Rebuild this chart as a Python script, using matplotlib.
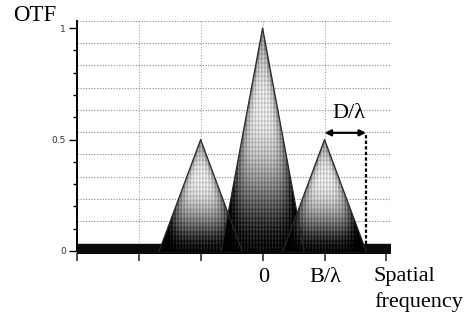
import numpy as np
import matplotlib
matplotlib.use('Agg')
import matplotlib.pyplot as plt
from matplotlib.patches import Polygon

# OTF of a two-aperture interferometer, x in units of B/lambda
peak_centers = [-1.0, 0.0, 1.0]
peak_heights = [0.5, 1.0, 0.5]
half_width = 0.67          # D/lambda
band_top = 0.033           # dark floor under the peaks
x_ticks = [-3, -2, -1, 0, 1, 2]
y_major = [0, 0.5, 1]
y_major_labels = ['0', '0.5', '1']

serif = 'Liberation Serif'
W, H = 477, 322

fig = plt.figure(figsize=(4.77, 3.22), dpi=100)
ax = fig.add_axes([0.161, 0.2137, 0.657, 0.722])
xlim = (-3.0, 2.06)
ylim = (-0.01, 1.033)

# dotted grid, offset the same way as in the original picture
for g in np.arange(band_top + 0.1, 1.04, 0.1):
    ax.axhline(g, color='#9a9a9a', lw=0.8, ls=(0, (1.2, 1.3)), zorder=0)
for g in [-2, -1, 0, 1, xlim[1]]:
    ax.axvline(g, color='#a8a8a8', lw=0.8, ls=(0, (1, 1.5)), zorder=0)

# dark floor band
ax.fill_between([xlim[0], xlim[1]], -0.01, band_top, color='#0a0a0a', zorder=2)

# peaks: gradient fill clipped to each triangle
for c, h in zip(peak_centers, peak_heights):
    w = half_width
    xs = np.linspace(c - w, c + w, 240)
    ys = np.linspace(0, h, 300)
    X, Y = np.meshgrid(xs, ys)
    t = Y / h
    s = np.abs(X - c) / np.maximum(w * (1 - t), 1e-6)
    val = 0.05 + 0.85 * np.sin(np.pi * t * 0.78) ** 1.3
    val -= 0.4 * np.clip(s, 0, 1) ** 4
    val += 0.12 * np.sin(2 * np.pi * X / 0.05) - 0.10 * (np.sin(2 * np.pi * Y / 0.02) > 0.5)
    val = np.clip(val, 0, 1)
    tri = Polygon([[c - w, 0], [c, h], [c + w, 0]], closed=True,
                  facecolor='none', edgecolor='none')
    ax.add_patch(tri)
    im = ax.imshow(val, cmap='gray', vmin=0, vmax=1, origin='lower',
                   extent=[c - w, c + w, 0, h], aspect='auto',
                   interpolation='bilinear', zorder=3)
    im.set_clip_path(tri)

for c, h in zip(peak_centers, peak_heights):
    ax.plot([c - half_width, c, c + half_width], [0, h, 0],
            color='#2a2a2a', lw=0.9, zorder=4)

ax.set_xlim(*xlim)
ax.set_ylim(*ylim)

# D/lambda arrow and dashed drop line
arrow_y = 0.53
ax.annotate('', xy=(1 + half_width, arrow_y), xytext=(1.0, arrow_y),
            arrowprops=dict(arrowstyle='<|-|>', color='black', lw=1.6,
                            mutation_scale=9, shrinkA=0, shrinkB=0), zorder=6)
ax.plot([1 + half_width, 1 + half_width], [band_top, arrow_y], color='black',
        lw=1.6, ls=(0, (1.5, 1)), zorder=5)
fig.text(349 / W, 1 - 118 / H, 'D/λ', family=serif, fontsize=16,
         ha='center', va='baseline')

# axes
for sp in ['top', 'right', 'bottom']:
    ax.spines[sp].set_visible(False)
ax.spines['left'].set_linewidth(1.4)
ax.spines['left'].set_bounds(0, 1.033)
ax.set_xticks(x_ticks)
ax.set_xticklabels([''] * len(x_ticks))
ax.tick_params(axis='x', direction='out', length=6, width=1.2, color='#333333')
ax.set_yticks(y_major)
ax.set_yticklabels(y_major_labels, fontsize=6.5, color='#333333')
ax.set_yticks(np.arange(0, 1.01, 0.1), minor=True)
ax.tick_params(axis='y', which='major', direction='out', length=6, width=1.0, pad=2)
ax.tick_params(axis='y', which='minor', direction='out', length=3, width=1.0)

fig.text(13 / W, 1 - 21 / H, 'OTF', family=serif, fontsize=16.5,
         ha='left', va='baseline')
fig.text(264 / W, 1 - 282 / H, '0', family=serif, fontsize=16,
         ha='center', va='baseline')
fig.text(325 / W, 1 - 282 / H, 'B/λ', family=serif, fontsize=16,
         ha='center', va='baseline')
fig.text(374 / W, 1 - 281 / H, 'Spatial', family=serif, fontsize=16,
         ha='left', va='baseline')
fig.text(374 / W, 1 - 307 / H, 'frequency', family=serif, fontsize=16,
         ha='left', va='baseline')

fig.savefig('out.png', dpi=100)
